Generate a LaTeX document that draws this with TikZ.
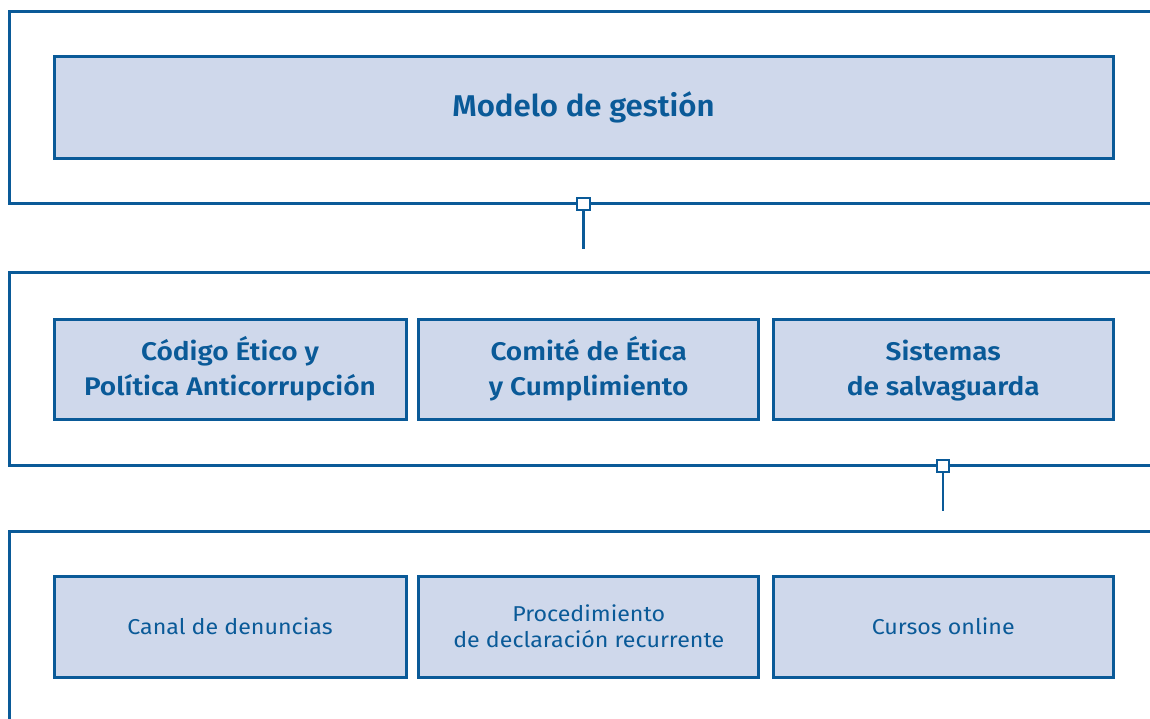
\documentclass[tikz,border=0pt]{standalone}
\usepackage{fontspec}
\setmainfont{Fira Sans}
\newfontfamily\semibt[FakeStretch=1.04]{Fira Sans SemiBold}
\newfontfamily\semibm[FakeStretch=1.1]{Fira Sans SemiBold}
\newfontfamily\regl[FakeStretch=1.08]{Fira Sans}
\definecolor{cblue}{HTML}{0A5A98}
\definecolor{cfill}{HTML}{CFD8EB}
\newcommand{\topln}{\vphantom{Éy}}
\begin{document}
\begin{tikzpicture}[x=1pt,y=-1pt,
  frame/.style={draw=cblue, line width=3pt},
  box/.style={draw=cblue, fill=cfill, line width=3pt, inner sep=0pt, align=center, text=cblue},
  titlebox/.style={box, font=\semibt\fontsize{30}{36}\selectfont},
  midbox/.style={box, font=\semibm\fontsize{25.5}{35}\selectfont},
  lowbox/.style={box, font=\regl\fontsize{21.5}{26}\selectfont},
  joint/.style={draw=cblue, fill=white, line width=2.4pt, minimum size=12.5pt, inner sep=0pt},
  link/.style={draw=cblue, line width=2.4pt}]
\useasboundingbox (0,0) rectangle (1150,718);
% open frames
\draw[frame] (1152,11.7) -- (9,11.7) -- (9,203.3) -- (1152,203.3);
\draw[frame] (1152,272.7) -- (9,272.7) -- (9,465.5) -- (1152,465.5);
\draw[frame] (1152,531) -- (9,531) -- (9,722);
% top
\node[titlebox, minimum width=1059pt, minimum height=102pt] (mg) at (583.5,107) {Modelo de gestión};
% middle
\node[midbox, minimum width=352pt, minimum height=100pt] (ce) at (230,369) {\topln Código Ético y\\Política Anticorrupción\vphantom{y}};
\node[midbox, minimum width=340pt, minimum height=100pt] (cm) at (588.75,369) {\topln Comité de Ética\\y Cumplimiento\vphantom{y}};
\node[midbox, minimum width=339.5pt, minimum height=100pt] (ss) at (943.25,369) {\topln Sistemas\\de salvaguarda\vphantom{y}};
% bottom
\node[lowbox, minimum width=352pt, minimum height=101pt] (cd) at (230,627) {\topln Canal de denuncias};
\node[lowbox, minimum width=340pt, minimum height=101pt] (pd) at (588.75,627) {\topln Procedimiento\\de declaración recurrente\vphantom{y}};
\node[lowbox, minimum width=339.5pt, minimum height=101pt] (co) at (943.25,627) {\topln Cursos online};
% connectors
\coordinate (e1) at (583.5,249);
\coordinate (e2) at (943,511);
\node[joint] (j1) at (583.5,204) {};
\node[joint] (j2) at (943,466) {};
\draw[link] (j1.south) -- (e1);
\draw[link] (j2.south) -- (e2);
\end{tikzpicture}
\end{document}
